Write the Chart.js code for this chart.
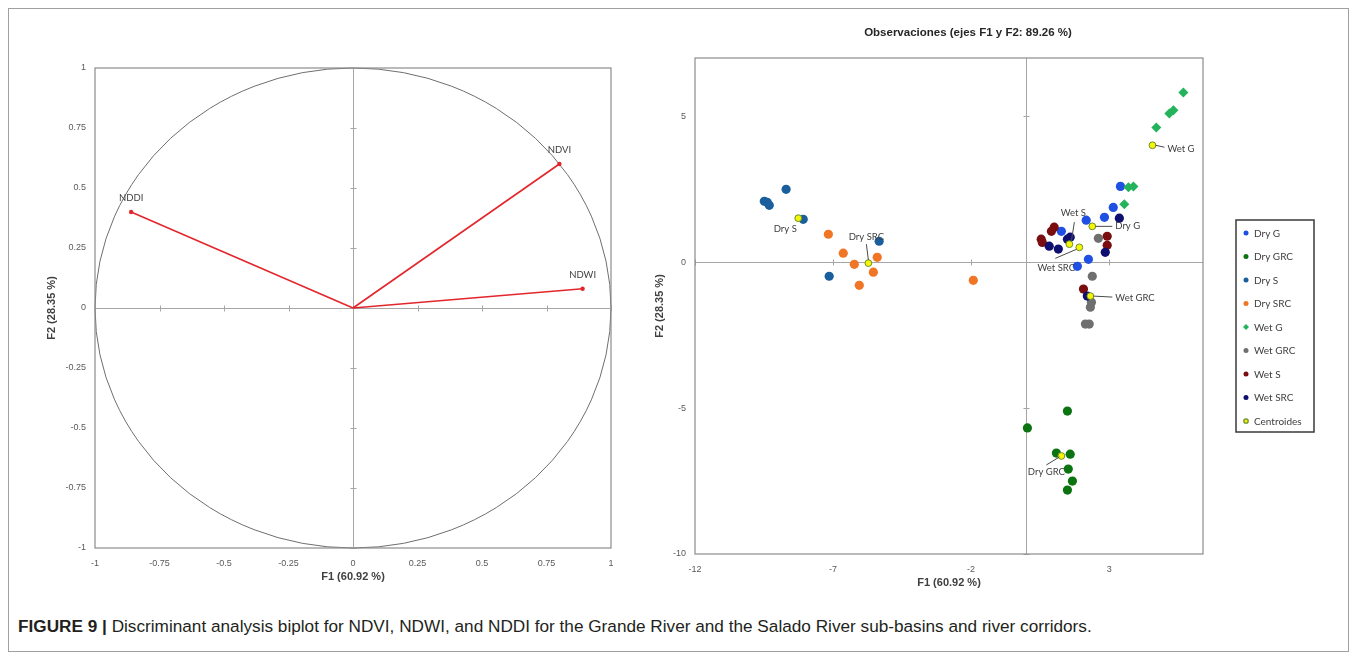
<!DOCTYPE html>
<html lang="es">
<head>
<meta charset="UTF-8">
<title>Figure 9 - Discriminant analysis biplot</title>
<script src="https://cdn.jsdelivr.net/npm/chart.js"></script>
<style>
  body { margin: 0; background: #fff; width: 1356px; height: 658px; overflow: hidden; position: relative; }
  #frame { position: absolute; left: 8px; top: 8px; width: 1339px; height: 642px; border: 1px solid #a0a0a0; }
  .box { position: absolute; top: 0; height: 600px; }
  #cap { position: absolute; left: 18px; top: 616px; font: 17.2px "Liberation Sans", Arial, sans-serif; color: #231f20; white-space: nowrap; }
</style>
</head>
<body>
<div id="frame"></div>
<div class="box" style="left:0;width:650px"><canvas id="circle"></canvas></div>
<div class="box" style="left:650px;width:706px"><canvas id="obs"></canvas></div>
<div id="cap"><b>FIGURE 9 |</b> Discriminant analysis biplot for NDVI, NDWI, and NDDI for the Grande River and the Salado River sub-basins and river corridors.</div>
<script>
// correlation circle (variables)
const circleTicks = [-1, -0.75, -0.5, -0.25, 0, 0.25, 0.5, 0.75, 1];
const variables = ['NDVI', 'NDWI', 'NDDI'];
const varF1 = [0.80, 0.89, -0.86];
const varF2 = [0.60, 0.08, 0.40];

// observations, [F1, F2]
const obsXTicks = [-12, -7, -2, 3];
const obsYTicks = [-10, -5, 0, 5];
const groups = ['Dry G', 'Dry GRC', 'Dry S', 'Dry SRC', 'Wet G', 'Wet GRC', 'Wet S', 'Wet SRC'];
const dryG = [[3.41, 2.60], [3.15, 1.88], [2.83, 1.54], [2.17, 1.44], [1.27, 1.06], [2.25, 0.10], [1.85, -0.14]];
const dryGRC = [[1.49, -5.10], [0.04, -5.68], [1.09, -6.54], [1.59, -6.58], [1.52, -7.09], [1.67, -7.50], [1.49, -7.81]];
const dryS = [[-8.70, 2.50], [-9.49, 2.09], [-9.38, 2.05], [-9.31, 1.95], [-8.08, 1.47], [-5.33, 0.72], [-7.14, -0.48]];
const drySRC = [[-7.17, 0.96], [-6.63, 0.31], [-6.23, -0.07], [-5.40, 0.17], [-5.54, -0.34], [-6.05, -0.79], [-1.92, -0.62]];
const wetG = [[5.69, 5.82], [5.33, 5.21], [5.18, 5.10], [4.71, 4.62], [3.70, 2.57], [3.88, 2.60], [3.55, 1.99]];
const wetGRC = [[2.61, 0.82], [2.39, -0.48], [2.36, -1.37], [2.32, -1.54], [2.14, -2.12], [2.28, -2.12]];
const wetS = [[1.01, 1.20], [0.91, 1.06], [0.54, 0.79], [0.58, 0.68], [2.93, 0.89], [2.93, 0.58], [2.07, -0.92]];
const wetSRC = [[1.59, 0.86], [1.49, 0.79], [0.83, 0.55], [1.16, 0.45], [2.86, 0.34], [3.37, 1.51], [2.21, -1.16]];
const centroidF1 = [2.39, 1.27, -8.26, -5.72, 4.57, 2.32, 1.56, 1.92];
const centroidF2 = [1.23, -6.64, 1.51, -0.03, 4.01, -1.16, 0.62, 0.51];

const groupPoints = [dryG, dryGRC, dryS, drySRC, wetG, wetGRC, wetS, wetSRC];
const groupColors = ['#1f4fe3', '#0b730f', '#1a5f9c', '#f07525', '#22b35c', '#6f6f6f', '#7a0d0f', '#0e0f6e'];
const groupShapes = ['circle', 'circle', 'circle', 'circle', 'rectRot', 'circle', 'circle', 'circle'];

const tickFont = { family: 'Liberation Sans, Arial, sans-serif', size: 9 };
const smallFont = '9.5px Lato, "Liberation Sans", sans-serif';
const axisTitleFont = 'bold 11px "Liberation Sans", Arial, sans-serif';

// draws frame, zero axes with their tick marks, and axis titles
function framePlugin(xTitle, yTitle, xTicks, yTicks, yTitleX) {
  return {
    id: 'frame',
    beforeDatasetsDraw(chart) {
      const { ctx, chartArea: a, scales: { x, y } } = chart;
      ctx.save();
      const x0 = Math.round(x.getPixelForValue(0)) + 0.5;
      const y0 = Math.round(y.getPixelForValue(0)) + 0.5;
      ctx.strokeStyle = '#a6a6a6';
      ctx.lineWidth = 1;
      ctx.beginPath();
      ctx.moveTo(a.left, y0); ctx.lineTo(a.right, y0);
      ctx.moveTo(x0, a.top); ctx.lineTo(x0, a.bottom);
      xTicks.forEach(v => {
        const px = Math.round(x.getPixelForValue(v)) + 0.5;
        ctx.moveTo(px, y0 - 3); ctx.lineTo(px, y0 + 3);
      });
      yTicks.forEach(v => {
        const py = Math.round(y.getPixelForValue(v)) + 0.5;
        ctx.moveTo(x0 - 3, py); ctx.lineTo(x0 + 3, py);
      });
      ctx.stroke();
      ctx.strokeStyle = '#8c8c8c';
      ctx.lineWidth = 1.2;
      ctx.strokeRect(a.left, a.top, a.right - a.left, a.bottom - a.top);
      ctx.restore();
    },
    afterDraw(chart) {
      const { ctx, chartArea: a } = chart;
      ctx.save();
      ctx.fillStyle = '#404040';
      ctx.font = axisTitleFont;
      ctx.textAlign = 'center';
      ctx.textBaseline = 'middle';
      ctx.fillText(xTitle, (a.left + a.right) / 2, a.bottom + 29);
      ctx.translate(yTitleX, (a.top + a.bottom) / 2);
      ctx.rotate(-Math.PI / 2);
      ctx.fillText(yTitle, 0, 0);
      ctx.restore();
    }
  };
}

function scaleOpts(min, max, ticks, fixSize, horizontal) {
  return {
    type: 'linear',
    min: min,
    max: max,
    afterBuildTicks: s => { s.ticks = ticks.map(v => ({ value: v })); },
    afterFit: s => { if (horizontal) s.height = fixSize; else s.width = fixSize; },
    ticks: { font: tickFont, color: '#595959', padding: horizontal ? 10 : 9, callback: v => String(v), maxRotation: 0, autoSkip: false },
    grid: { display: false, drawTicks: false },
    border: { display: false }
  };
}

// ---------- left: correlation circle ----------
const circlePlugin = {
  id: 'unitCircle',
  beforeDatasetsDraw(chart) {
    const { ctx, scales: { x, y } } = chart;
    const cx = x.getPixelForValue(0), cy = y.getPixelForValue(0);
    ctx.save();
    ctx.strokeStyle = '#6e6e6e';
    ctx.lineWidth = 1;
    ctx.beginPath();
    ctx.ellipse(cx, cy, x.getPixelForValue(1) - cx, cy - y.getPixelForValue(1), 0, 0, Math.PI * 2);
    ctx.stroke();
    ctx.restore();
  },
  afterDatasetsDraw(chart) {
    const { ctx, scales: { x, y } } = chart;
    ctx.save();
    ctx.fillStyle = '#404040';
    ctx.font = smallFont;
    ctx.textAlign = 'center';
    ctx.textBaseline = 'middle';
    variables.forEach((name, i) => {
      ctx.fillText(name, x.getPixelForValue(varF1[i]), y.getPixelForValue(varF2[i]) - 14);
    });
    ctx.restore();
  }
};

new Chart(document.getElementById('circle'), {
  type: 'scatter',
  data: {
    datasets: variables.map((name, i) => ({
      label: name,
      type: 'line',
      data: [{ x: 0, y: 0 }, { x: varF1[i], y: varF2[i] }],
      borderColor: '#e3262b',
      backgroundColor: '#e3262b',
      borderWidth: 1.6,
      pointRadius: [0, 2.2],
      pointBorderWidth: 0,
      showLine: true
    }))
  },
  options: {
    responsive: true,
    maintainAspectRatio: false,
    animation: false,
    layout: { padding: { left: 0, right: 39, top: 68, bottom: 0 } },
    plugins: { legend: { display: false }, tooltip: { enabled: false } },
    scales: {
      x: scaleOpts(-1, 1, circleTicks, 52, true),
      y: scaleOpts(-1, 1, circleTicks, 95, false)
    }
  },
  plugins: [circlePlugin, framePlugin('F1 (60.92 %)', 'F2 (28.35 %)', circleTicks, circleTicks, 52)]
});

// ---------- right: observations ----------
const labelSpecs = {
  'Dry G':   { text: [23, 0, 'left'],     line: [3, 0, 20, 0] },
  'Dry GRC': { text: [-15, 16, 'center'], line: [-15, 9, -2, 1] },
  'Dry S':   { text: [-13, 11, 'center'], line: null },
  'Dry SRC': { text: [-2, -26, 'center'], line: [-2, -19, 0, -3] },
  'Wet G':   { text: [15, 4, 'left'],     line: [3, 0, 12, 2] },
  'Wet GRC': { text: [25, 2, 'left'],     line: [3, 0, 22, 1] },
  'Wet S':   { text: [4, -31, 'center'],  line: [5, -22, 2, -3] },
  'Wet SRC': { text: [-23, 21, 'center'], line: [-24, 11, -3, 2] }
};

const obsPlugin = {
  id: 'obsExtras',
  afterDraw(chart) {
    const { ctx, scales: { x, y } } = chart;
    ctx.save();
    // title
    ctx.fillStyle = '#262626';
    ctx.font = 'bold 11.5px "Liberation Sans", Arial, sans-serif';
    ctx.textAlign = 'center';
    ctx.textBaseline = 'middle';
    ctx.fillText('Observaciones (ejes F1 y F2: 89.26 %)', 318, 33);
    // centroid labels
    ctx.font = smallFont;
    ctx.fillStyle = '#404040';
    ctx.strokeStyle = '#4a4a4a';
    ctx.lineWidth = 1;
    groups.forEach((g, i) => {
      const px = x.getPixelForValue(centroidF1[i]);
      const py = y.getPixelForValue(centroidF2[i]);
      const s = labelSpecs[g];
      if (s.line) {
        ctx.beginPath();
        ctx.moveTo(px + s.line[0], py + s.line[1]);
        ctx.lineTo(px + s.line[2], py + s.line[3]);
        ctx.stroke();
      }
      ctx.textAlign = s.text[2];
      ctx.fillText(g, px + s.text[0], py + s.text[1]);
    });
    // legend box
    const lx = 586, ly = 220, lw = 78, lh = 212;
    ctx.strokeStyle = '#3a3a3a';
    ctx.lineWidth = 1.5;
    ctx.strokeRect(lx, ly, lw, lh);
    const items = chart.data.datasets;
    ctx.font = '10px Lato, "Liberation Sans", sans-serif';
    ctx.textAlign = 'left';
    items.forEach((ds, i) => {
      const cy = ly + 13 + i * 23.5;
      const cx = lx + 10;
      const isCentroid = ds.label === 'Centroides';
      ctx.fillStyle = ds.backgroundColor;
      ctx.strokeStyle = ds.borderColor;
      ctx.lineWidth = 1.3;
      ctx.beginPath();
      if (ds.pointStyle === 'rectRot') {
        ctx.moveTo(cx, cy - 3); ctx.lineTo(cx + 3, cy); ctx.lineTo(cx, cy + 3); ctx.lineTo(cx - 3, cy);
        ctx.closePath();
      } else {
        ctx.arc(cx, cy, isCentroid ? 2.2 : 2.5, 0, Math.PI * 2);
      }
      ctx.fill();
      if (isCentroid) ctx.stroke();
      ctx.fillStyle = '#404040';
      ctx.fillText(ds.label, cx + 8, cy + 0.5);
    });
    ctx.restore();
  }
};

const obsDatasets = groups.map((g, i) => ({
  label: g,
  data: groupPoints[i].map(p => ({ x: p[0], y: p[1] })),
  backgroundColor: groupColors[i],
  borderColor: groupColors[i],
  pointStyle: groupShapes[i],
  pointRadius: groupShapes[i] === 'rectRot' ? 5 : 4.6,
  pointBorderWidth: 0,
  order: 20 - i
}));
obsDatasets.push({
  label: 'Centroides',
  data: centroidF1.map((v, i) => ({ x: v, y: centroidF2[i] })),
  backgroundColor: '#f5f50a',
  borderColor: '#6f8f2a',
  pointStyle: 'circle',
  pointRadius: 3.4,
  pointBorderWidth: 1,
  order: 0
});

new Chart(document.getElementById('obs'), {
  type: 'scatter',
  data: { datasets: obsDatasets },
  options: {
    responsive: true,
    maintainAspectRatio: false,
    animation: false,
    layout: { padding: { left: 0, right: 153, top: 58, bottom: 0 } },
    plugins: { legend: { display: false }, tooltip: { enabled: false } },
    scales: {
      x: scaleOpts(-12, 6.4, obsXTicks, 46, true),
      y: scaleOpts(-10, 7, obsYTicks, 45, false)
    }
  },
  plugins: [obsPlugin, framePlugin('F1 (60.92 %)', 'F2 (28.35 %)', obsXTicks, obsYTicks, 10)]
});
</script>
</body>
</html>
